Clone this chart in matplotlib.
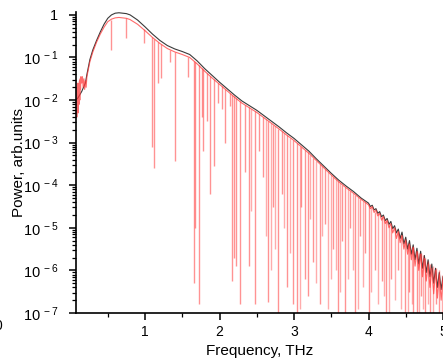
import numpy as np
import matplotlib
matplotlib.use("Agg")
import matplotlib.pyplot as plt
from matplotlib.ticker import FixedLocator, LogLocator, FuncFormatter, MultipleLocator

plt.rcParams["font.family"] = ["Liberation Sans", "DejaVu Sans"]
plt.rcParams["mathtext.fontset"] = "custom"
plt.rcParams["mathtext.rm"] = "Liberation Sans"

# reference spectrum (black) - log10 of power
black_freq = [0.07, 0.10, 0.15, 0.20, 0.22, 0.26, 0.30, 0.35, 0.40, 0.45, 0.50, 0.55,
              0.60, 0.65, 0.70, 0.75, 0.80, 0.90, 1.00, 1.10, 1.20, 1.30, 1.40, 1.50,
              1.60, 1.70, 1.80, 1.90, 2.00, 2.10, 2.20, 2.30, 2.40, 2.50, 2.60, 2.70,
              2.80, 2.90, 3.00, 3.10, 3.20, 3.30, 3.40, 3.50, 3.60, 3.70, 3.80, 3.90,
              4.000, 4.025, 4.050, 4.075, 4.100, 4.125, 4.150, 4.175, 4.200, 4.225,
              4.250, 4.275, 4.300, 4.325, 4.350, 4.375, 4.400, 4.425, 4.450, 4.475,
              4.500, 4.525, 4.550, 4.575, 4.600, 4.625, 4.650, 4.675, 4.700, 4.725,
              4.750, 4.775, 4.800, 4.825, 4.850, 4.875, 4.900, 4.925, 4.950, 4.975, 5.000]
black_log = [-2.0, -1.95, -1.8, -1.6, -1.4, -1.05, -0.82, -0.6, -0.4, -0.22, -0.08, 0.0,
             0.04, 0.05, 0.04, 0.03, 0.0, -0.12, -0.28, -0.45, -0.6, -0.72, -0.8, -0.86,
             -0.93, -1.08, -1.26, -1.42, -1.58, -1.73, -1.88, -2.02, -2.13, -2.24, -2.37, -2.5,
             -2.63, -2.77, -2.9, -3.05, -3.2, -3.38, -3.55, -3.72, -3.88, -4.02, -4.15, -4.3,
             -4.42, -4.50, -4.47, -4.58, -4.55, -4.66, -4.62, -4.74, -4.70, -4.83,
             -4.78, -4.92, -4.85, -5.02, -4.95, -5.12, -5.03, -5.25, -5.10, -5.38,
             -5.22, -5.50, -5.30, -5.62, -5.40, -5.75, -5.48, -5.85, -5.55, -5.95,
             -5.65, -6.05, -5.75, -6.15, -5.85, -6.30, -5.95, -6.40, -6.05, -6.45, -6.15]

# sample spectrum (red) with water vapour absorption
red_freq = [0.070, 0.075, 0.080, 0.085, 0.090, 0.095, 0.100, 0.105, 0.110, 0.115, 0.120,
            0.125, 0.130, 0.135, 0.140, 0.150, 0.160, 0.170, 0.180, 0.190, 0.200, 0.210,
            0.220, 0.26, 0.30, 0.35, 0.40, 0.45, 0.50, 0.55, 0.60, 0.65, 0.70, 0.75, 0.80,
            0.90, 1.00, 1.10, 1.20, 1.30, 1.40, 1.50, 1.60, 1.70, 1.80, 1.90, 2.00, 2.10,
            2.20, 2.30, 2.40, 2.50, 2.60, 2.70, 2.80, 2.90, 3.00, 3.10, 3.20, 3.30, 3.40,
            3.50, 3.60, 3.70, 3.80, 3.90,
            4.000, 4.025, 4.050, 4.075, 4.100, 4.125, 4.150, 4.175, 4.200, 4.225,
            4.250, 4.275, 4.300, 4.325, 4.350, 4.375, 4.400, 4.425, 4.450, 4.475,
            4.500, 4.525, 4.550, 4.575, 4.600, 4.625, 4.650, 4.675, 4.700, 4.725,
            4.750, 4.775, 4.800, 4.825, 4.850, 4.875, 4.900, 4.925, 4.950, 4.975, 5.000]
red_log = [-1.55, -2.25, -1.85, -2.40, -1.70, -2.20, -1.60, -2.30, -1.75, -2.10, -1.55,
           -2.00, -1.50, -1.75, -1.45, -1.60, -1.45, -1.70, -1.50, -1.75, -1.55, -1.70,
           -1.45, -1.1, -0.87, -0.64, -0.45, -0.29, -0.16, -0.1, -0.07, -0.06, -0.07, -0.08, -0.11,
           -0.22, -0.37, -0.53, -0.67, -0.79, -0.87, -0.93, -1.0, -1.15, -1.32, -1.48, -1.63, -1.78,
           -1.93, -2.07, -2.18, -2.29, -2.42, -2.55, -2.68, -2.82, -2.95, -3.1, -3.25, -3.42, -3.59,
           -3.76, -3.92, -4.06, -4.19, -4.33,
           -4.46, -4.55, -4.50, -4.64, -4.58, -4.72, -4.66, -4.82, -4.73, -4.90,
           -4.82, -5.00, -4.90, -5.12, -5.00, -5.25, -5.08, -5.35, -5.18, -5.50,
           -5.28, -5.62, -5.38, -5.75, -5.45, -5.90, -5.55, -6.00, -5.62, -6.15,
           -5.72, -6.25, -5.85, -6.40, -5.95, -6.55, -6.00, -6.65, -6.10, -6.70, -6.20]

# absorption lines: frequency, top of dip, bottom of dip (log10)
dip_freq = [0.54, 0.75, 0.98, 1.10, 1.12, 1.18, 1.22, 1.34, 1.40, 1.58, 1.66, 1.67, 1.72,
            1.76, 1.78, 1.83, 1.87, 1.92, 1.98, 2.03, 2.07, 2.14, 2.17, 2.19, 2.22, 2.27,
            2.34, 2.39, 2.47, 2.53, 2.58, 2.655, 2.72, 2.79, 2.84, 2.90, 2.99, 3.04, 3.10,
            3.15, 3.19, 3.26, 3.35, 3.42, 3.53, 3.59, 3.65, 3.68, 3.75, 3.82, 3.89, 3.95,
            4.00, 4.09, 4.18, 4.24, 4.30, 4.40, 4.49, 4.55, 4.60, 4.65, 4.70, 4.76, 4.83,
            4.90, 4.95]
dip_top = [-0.11, -0.08, -0.34, -0.53, -0.56, -0.64, -0.69, -0.82, -0.87, -0.98, -1.08, -1.1, -1.18,
           -1.25, -1.28, -1.37, -1.43, -1.51, -1.6, -1.68, -1.74, -1.84, -1.88, -1.91, -1.96, -2.03,
           -2.11, -2.17, -2.26, -2.33, -2.39, -2.49, -2.58, -2.67, -2.73, -2.82, -2.94, -3.01, -3.1,
           -3.17, -3.23, -3.35, -3.5, -3.62, -3.81, -3.9, -3.99, -4.03, -4.13, -4.22, -4.32, -4.4,
           -4.46, -4.62, -4.75, -4.85, -4.95, -5.1, -5.3, -5.4, -5.45, -5.55, -5.6, -5.7, -5.85,
           -5.95, -6.0]
dip_bot = [-0.82, -0.54, -0.65, -3.1, -3.6, -1.6, -1.48, -1.1, -3.44, -1.45, -6.3, -5.0, -6.8,
           -2.4, -3.2, -2.5, -4.2, -3.55, -2.07, -2.2, -3.0, -2.15, -6.25, -5.7, -5.9, -6.8,
           -3.7, -5.9, -6.8, -3.2, -3.8, -6.75, -4.5, -7.1, -4.2, -6.4, -6.8, -7.1, -4.5,
           -6.2, -6.6, -5.8, -6.8, -4.9, -5.5, -7.1, -5.3, -7.1, -5.0, -7.1, -5.2, -5.6,
           -7.1, -6.0, -6.25, -7.1, -6.2, -6.0, -7.1, -6.5, -7.1, -7.1, -6.6, -7.1, -7.1,
           -6.8, -7.1]

# more lines in the dense part above 2.4 THz
dip2_freq = [2.42, 2.62, 2.69, 2.75, 2.87, 2.95, 3.08, 3.22, 3.30, 3.38, 3.46, 3.50,
             3.56, 3.62, 3.72, 3.79, 3.86, 3.92, 4.04, 4.13, 4.21, 4.27, 4.35, 4.44,
             4.53, 4.58, 4.68, 4.73, 4.80, 4.86, 4.98]
dip2_top = [-2.2, -2.45, -2.54, -2.62, -2.78, -2.89, -3.07, -3.28, -3.42, -3.55, -3.69, -3.76,
            -3.86, -3.95, -4.08, -4.18, -4.28, -4.36, -4.52, -4.66, -4.8, -4.9, -5.0, -5.18,
            -5.35, -5.45, -5.6, -5.65, -5.78, -5.9, -6.1]
dip2_bot = [-4.6, -5.2, -6.0, -5.5, -5.0, -5.6, -6.9, -4.8, -6.3, -5.2, -6.9, -6.2,
            -6.0, -6.5, -6.2, -6.0, -6.9, -6.4, -6.5, -6.8, -6.6, -7.1, -6.7, -6.9,
            -7.1, -6.8, -7.1, -6.9, -6.8, -7.1, -7.1]

red = "#ff3b3b"

fig = plt.figure(figsize=(4.43, 3.61), dpi=100)
ax = fig.add_axes([0.1716, 0.133, 0.8284, 0.834])

ax.plot(black_freq, 10.0 ** np.array(black_log), color="#3a3a3a", lw=0.8)
ax.plot(red_freq, 10.0 ** np.array(red_log), color=red, lw=0.8, alpha=0.75)
ax.vlines(dip_freq, 10.0 ** np.array(dip_bot), 10.0 ** np.array(dip_top),
          color=red, lw=1.0, alpha=0.55)
ax.vlines(dip2_freq, 10.0 ** np.array(dip2_bot), 10.0 ** np.array(dip2_top),
          color=red, lw=1.0, alpha=0.42)

ax.set_yscale("log")
ax.set_xlim(0.074, 5.0)
ax.set_ylim(1e-7, 10 ** 0.07)

ax.spines["top"].set_visible(False)
ax.spines["right"].set_visible(False)
ax.spines["left"].set_linewidth(1.2)
ax.spines["bottom"].set_linewidth(1.2)

ax.xaxis.set_major_locator(FixedLocator([1, 2, 3, 4, 5]))
ax.xaxis.set_minor_locator(MultipleLocator(0.5))
ax.yaxis.set_major_locator(LogLocator(base=10, numticks=20))
ax.yaxis.set_minor_locator(LogLocator(base=10, subs=np.arange(2, 10), numticks=20))


def ylab(v, pos):
    n = int(round(np.log10(v)))
    if n == 0:
        # keep "1" lined up with the "10" of the other labels
        return r"$\mathregular{1\ \ }$"
    return r"$\mathregular{10^{\,%d}}$" % n


ax.yaxis.set_major_formatter(FuncFormatter(ylab))
ax.tick_params(axis="both", which="major", direction="out", length=5, width=1.1,
               labelsize=10, colors="black")
ax.tick_params(axis="both", which="minor", direction="out", length=3, width=0.9)
ax.tick_params(axis="y", which="major", labelsize=10.5, pad=8)
ax.tick_params(axis="x", which="major", pad=4)

ax.set_xlabel("Frequency, THz", fontsize=11, labelpad=3)
ax.set_ylabel("Power, arb.units", fontsize=11)
ax.yaxis.set_label_coords(-0.136, 0.5)

# cut off "0" from the neighbouring panel
fig.text(-0.004, 1 - 326 / 361, "0", fontsize=10, ha="center", va="center")

plt.savefig("out.png", dpi=100)
